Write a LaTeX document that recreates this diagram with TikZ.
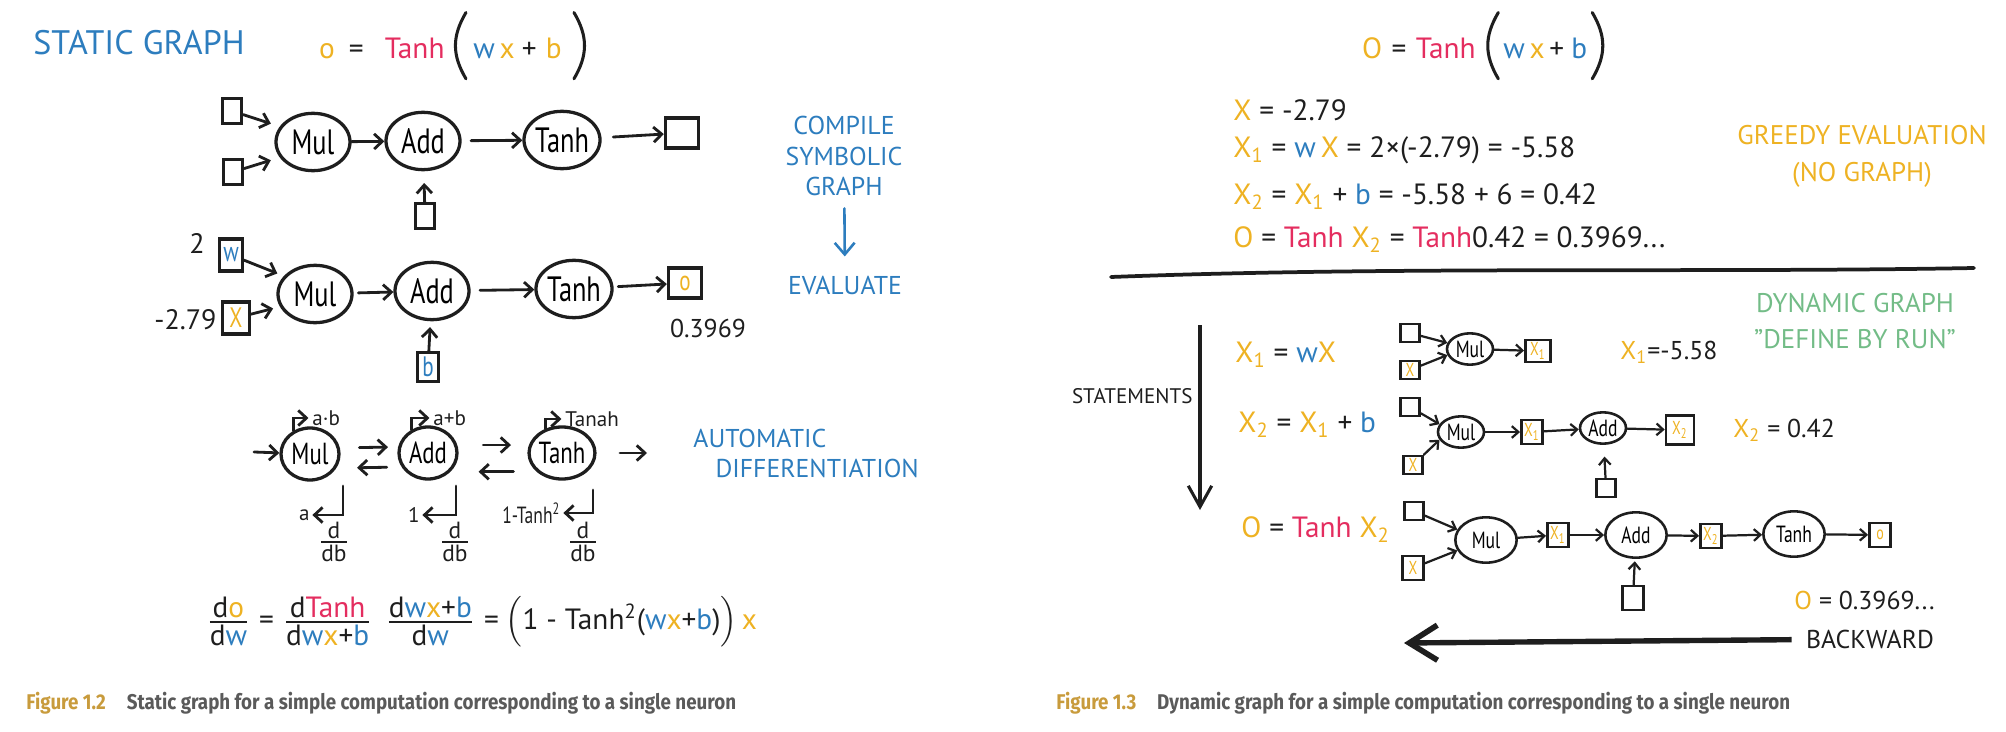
\documentclass[tikz,border=0pt]{standalone}
\usepackage{amsmath}
\usepackage{fontspec}
\setmainfont{PT Sans}
\newfontfamily\narrowhand[FakeStretch=0.75]{PT Sans}
\newfontfamily\capfont[FakeStretch=0.88]{Fira Sans}
\usepackage{xcolor}
\usepackage{tikz}
\usetikzlibrary{arrows.meta,positioning,shapes.geometric}
\definecolor{inkblack}{RGB}{30,30,30}
\definecolor{handblue}{RGB}{45,125,190}
\definecolor{handorange}{RGB}{238,178,35}
\definecolor{handred}{RGB}{228,45,95}
\definecolor{handgreen}{RGB}{115,188,135}
\definecolor{capgold}{RGB}{200,155,60}
\definecolor{capgray}{RGB}{90,90,90}
\newcommand{\fsz}[1]{\fontsize{#1}{#1}\selectfont}
\newcommand{\hor}[1]{\textcolor{handorange}{#1}}
\newcommand{\hbl}[1]{\textcolor{handblue}{#1}}
\newcommand{\hre}[1]{\textcolor{handred}{#1}}
\newcommand{\hfrac}[2]{\ensuremath{\genfrac{}{}{0.8pt}{}{\mbox{#1}}{\mbox{#2}}}}
\tikzset{
    opnode/.style={
        ellipse,
        draw=inkblack,
        line width=1.4pt,
        inner sep=0pt,
        minimum width=1.11cm,
        minimum height=0.86cm,
        font=\narrowhand\fsz{15}
    },
    gradnode/.style={opnode, minimum width=0.87cm, minimum height=0.78cm, font=\narrowhand\fsz{13}},
    dynop/.style={opnode, line width=1.1pt, minimum width=0.69cm, minimum height=0.47cm, font=\narrowhand\fsz{10}},
    dynopc/.style={dynop, minimum width=0.92cm, minimum height=0.68cm},
    valbox/.style={rectangle, draw=inkblack, line width=1.3pt, inner sep=0pt, minimum width=0.29cm, minimum height=0.38cm, font=\narrowhand\fsz{12}},
    outbox/.style={valbox, minimum width=0.5cm, minimum height=0.45cm},
    dynbox/.style={valbox, line width=1.1pt, minimum width=0.32cm, minimum height=0.36cm, font=\narrowhand\fsz{8}},
    emptybox/.style={dynbox, minimum width=0.29cm, minimum height=0.27cm},
    handtext/.style={inner sep=0pt, text=inkblack, font=\fsz{12}},
    smalltext/.style={handtext, font=\fsz{9}},
    eqtext/.style={handtext, anchor=west, font=\fsz{12.5}},
    formula/.style={handtext, font=\fsz{12.5}},
    fracnode/.style={handtext, font=\fsz{10}},
    titletext/.style={inner sep=0pt, text=handblue, font=\fsz{14.5}},
    bluenote/.style={inner sep=0pt, text=handblue, align=center, font=\fontsize{11}{13.2}\selectfont},
    orangenote/.style={bluenote, text=handorange, font=\fontsize{11.5}{15.8}\selectfont},
    greennote/.style={bluenote, text=handgreen, font=\fontsize{11.5}{15.4}\selectfont},
    captag/.style={inner sep=0pt, anchor=west, text=capgold, font=\capfont\bfseries\fsz{9.1}},
    captext/.style={captag, text=capgray},
    flow/.style={-{Straight Barb[length=3.5pt,width=6.5pt]}, line width=1.2pt, draw=inkblack, line cap=round},
    thinflow/.style={-{Straight Barb[length=2.8pt,width=5pt]}, line width=0.95pt, draw=inkblack, line cap=round},
    bluearrow/.style={-{Straight Barb[length=5pt,width=8.5pt]}, line width=1.1pt, draw=handblue, line cap=round},
    stmarrow/.style={-{Straight Barb[length=9pt,width=10pt]}, line width=1.3pt, draw=inkblack},
    backarrow/.style={-{Straight Barb[length=12pt,width=15pt,line width=2.4pt]}, line width=2.3pt, draw=inkblack},
    parenline/.style={line width=1.3pt, draw=inkblack, line cap=round},
    divider/.style={line width=1.6pt, draw=inkblack, line cap=round},
}

\begin{document}
\begin{tikzpicture}[x=0.015cm, y=-0.015cm]
    \useasboundingbox (0,0) rectangle (2006,732);

    % ---- Left: static graph
    \node[titletext] (statictitle) at (139,43) {STATIC GRAPH};
    \node[formula, anchor=east] (staticlhs) at (445,48) {\hor{o}\hspace{6pt}=\hspace{9pt}\hre{Tanh}};
    \node[formula, anchor=west] (staticarg) at (473,48) {\hbl{w}\hspace{2pt}\hor{x}\hspace{3pt}+\hspace{4pt}\hor{b}};
    \draw[parenline] ([shift={(-3pt,10.5pt)}]staticarg.north west) .. controls ([shift={(-9pt,5pt)}]staticarg.west) and ([shift={(-9pt,-3pt)}]staticarg.west) .. ([shift={(-3pt,-8.5pt)}]staticarg.south west);
    \draw[parenline] ([shift={(5pt,10.5pt)}]staticarg.north east) .. controls ([shift={(11pt,5pt)}]staticarg.east) and ([shift={(11pt,-3pt)}]staticarg.east) .. ([shift={(5pt,-8.5pt)}]staticarg.south east);

    % Symbolic graph
    \node[valbox] (in1a) at (232,111) {};
    \node[valbox] (in1b) at (233,172) {};
    \node[opnode] (mul1) at (313,142) {Mul};
    \node[opnode] (add1) at (423,141) {Add};
    \node[opnode] (tanh1) at (562,140) {Tanh};
    \node[outbox] (out1) at (682,133) {};
    \node[valbox] (bias1) at (425,216) {};

    \draw[flow, shorten >=4pt] (in1a) -- (mul1.155);
    \draw[flow, shorten >=4pt] (in1b) -- (mul1.205);
    \draw[flow] (mul1) -- (add1);
    \draw[flow, shorten <=4pt] (add1) -- (tanh1);
    \draw[flow, shorten <=5pt] (tanh1) -- (out1);
    \draw[flow, shorten >=5pt] (bias1) -- (add1);

    % Evaluated graph
    \node[handtext] (wval) at (197,243) {2};
    \node[valbox, minimum width=0.34cm, minimum height=0.48cm] (wbox) at (231,255) {\hbl{w}};
    \node[handtext, anchor=east] (xval) at (217,320) {-2.79};
    \node[valbox, minimum width=0.4cm, minimum height=0.48cm] (xbox) at (236,318) {\hor{X}};
    \node[opnode] (mul2) at (315,294) {Mul};
    \node[opnode] (add2) at (432,291) {Add};
    \node[opnode] (tanh2) at (574,289) {Tanh};
    \node[outbox] (out2) at (685,283) {\hor{o}};
    \node[handtext, font=\fsz{11}] (outval) at (708,328) {0.3969};
    \node[valbox, minimum width=0.31cm, minimum height=0.44cm] (bbox) at (428,367) {\hbl{b}};

    \draw[flow, shorten >=3pt] (wbox) -- (mul2.150);
    \draw[flow, shorten >=3pt] (xbox) -- (mul2.200);
    \draw[flow, shorten <=2pt] (mul2) -- (add2);
    \draw[flow, shorten <=4pt] (add2) -- (tanh2);
    \draw[flow, shorten <=2pt] (tanh2) -- (out2);
    \draw[flow, shorten >=2.5pt] (bbox) -- (add2);

    \node[bluenote] (compilenote) at (844,156) {COMPILE\\SYMBOLIC\\GRAPH};
    \node[bluenote] (evalnote) at (845,285) {EVALUATE};
    \draw[bluearrow, shorten <=5pt, shorten >=8pt] (compilenote) -- (evalnote);

    % Automatic differentiation
    \coordinate (in3) at (254,452);
    \node[gradnode] (mul3) at (310,454) {Mul};
    \node[gradnode] (add3) at (428,453) {Add};
    \node[gradnode] (tanh3) at (562,453) {Tanh};
    \coordinate (out3) at (647,453);

    \draw[flow] (in3) -- (mul3);
    \draw[flow, shorten <=8pt, shorten >=4pt] ([yshift=2.6pt]mul3.east) -- ([yshift=2.6pt]add3.west);
    \draw[flow, shorten <=4.5pt, shorten >=7pt] ([yshift=-6pt]add3.west) -- ([yshift=-6pt]mul3.east);
    \draw[flow, shorten <=10.5pt, shorten >=7pt] ([yshift=3.4pt]add3.east) -- ([yshift=3.4pt]tanh3.west);
    \draw[flow, shorten <=6pt, shorten >=8.5pt] ([yshift=-8pt]tanh3.west) -- ([yshift=-8pt]add3.east);
    \draw[flow, shorten <=10pt] (tanh3) -- (out3);

    % forward values
    \node[smalltext, anchor=west] (mul3fwd) at (312,418) {a·b};
    \node[smalltext, anchor=west] (add3fwd) at (433,418) {a+b};
    \node[smalltext, anchor=west] (tanh3fwd) at (565,419) {Tanah};
    \draw[flow, shorten >=1.5pt] (mul3.125) |- (mul3fwd.west);
    \draw[flow, shorten >=1.5pt] (add3.125) |- (add3fwd.west);
    \draw[flow, shorten >=1.5pt] (tanh3.125) |- (tanh3fwd.west);

    % local gradients
    \coordinate (mul3drop) at (343,486);
    \coordinate (add3drop) at (456,486);
    \coordinate (tanh3drop) at (593,490);
    \node[smalltext, anchor=east] (mul3grad) at (310,515) {a};
    \node[smalltext, anchor=east] (add3grad) at (420,515) {1};
    \node[smalltext, anchor=east, font=\narrowhand\fsz{10}] (tanh3grad) at (561,513) {1-Tanh\textsuperscript{2}};
    \draw[flow, shorten >=1pt] (mul3drop) |- (mul3grad.east);
    \draw[flow, shorten >=1pt] (add3drop) |- (add3grad.east);
    \draw[flow, shorten >=1pt] (tanh3drop) |- (tanh3grad.east);
    \node[fracnode] (mul3db) at (334,542) {\hfrac{d}{db}};
    \node[fracnode] (add3db) at (455,542) {\hfrac{d}{db}};
    \node[fracnode] (tanh3db) at (583,542) {\hfrac{d}{db}};

    \node[bluenote, align=left, anchor=north west, font=\fontsize{11}{12.8}\selectfont] (autonote) at (693,429) {AUTOMATIC\\\hspace*{9.4pt}DIFFERENTIATION};

    % Chain rule
    \node[handtext, font=\fsz{12.5}] (chainrule) at (482,622) {\hfrac{d\hor{o}}{d\hbl{w}}\hspace{4pt}=\hspace{4pt}\hfrac{d\hre{Tanh}}{d\hbl{w}\hor{x}+\hbl{b}}\hspace{6pt}\hfrac{d\hbl{w}\hor{x}+\hbl{b}}{d\hbl{w}}\hspace{4pt}=\hspace{3pt}$\Bigl($1 - Tanh\textsuperscript{2}(\hbl{w}\hor{x}+\hbl{b})$\Bigr)$\hspace{2pt}\hor{x}};

    \node[captag] (figtagL) at (26,703) {Figure 1.2};
    \node[captext, right=8.5pt of figtagL.base east, anchor=base west] (figtextL) {Static graph for a simple computation corresponding to a single neuron};

    % ---- Right: greedy evaluation
    \node[formula, anchor=east] (greedylhs) at (1476,48) {\hor{O}\hspace{4pt}=\hspace{4pt}\hre{Tanh}};
    \node[formula, anchor=west] (greedyarg) at (1503,48) {\hbl{w}\hspace{2pt}\hor{x}\hspace{2pt}+\hspace{3pt}\hbl{b}};
    \draw[parenline] ([shift={(-2pt,10.5pt)}]greedyarg.north west) .. controls ([shift={(-8pt,5pt)}]greedyarg.west) and ([shift={(-8pt,-3pt)}]greedyarg.west) .. ([shift={(-2pt,-8.5pt)}]greedyarg.south west);
    \draw[parenline] ([shift={(2pt,10.5pt)}]greedyarg.north east) .. controls ([shift={(8pt,5pt)}]greedyarg.east) and ([shift={(8pt,-3pt)}]greedyarg.east) .. ([shift={(2pt,-8.5pt)}]greedyarg.south east);

    \node[eqtext] (eqx) at (1233,110) {\hor{X} = -2.79};
    \node[eqtext] (eqx1) at (1233,150) {\hor{X\textsubscript{1}} = \hbl{w}\,\hor{X} = 2×(-2.79) = -5.58};
    \node[eqtext] (eqx2) at (1233,197) {\hor{X\textsubscript{2}} = \hor{X\textsubscript{1}} + \hbl{b} = -5.58 + 6 = 0.42};
    \node[eqtext] (eqo) at (1233,240) {\hor{O} = \hre{Tanh} \hor{X\textsubscript{2}} = \hre{Tanh}0.42 = 0.3969...};
    \node[orangenote] (greedynote) at (1862,156) {GREEDY EVALUATION\\(NO GRAPH)};

    \draw[divider] (1111,277) .. controls (1400,266) and (1700,273) .. (1974,268);

    % Dynamic graph, one statement at a time
    \node[greennote] (dynnote) at (1855,321) {DYNAMIC GRAPH\\"DEFINE BY RUN"};
    \node[smalltext, anchor=east] (stmlabel) at (1193,396) {STATEMENTS};
    \coordinate (stmtop) at (1200,325);
    \coordinate (stmbot) at (1200,510);
    \draw[stmarrow] (stmtop) -- (stmbot);

    \node[eqtext] (stmA) at (1235,355) {\hor{X\textsubscript{1}} = \hbl{w}\hor{X}};
    \node[emptybox] (inA1) at (1410,333) {};
    \node[emptybox] (inA2) at (1410,370) {\hor{X}};
    \node[dynop] (mulA) at (1470,349) {Mul};
    \node[dynbox, minimum width=0.38cm, minimum height=0.33cm] (outA) at (1538,351) {\hor{X\textsubscript{1}}};
    \node[eqtext, font=\fsz{11}] (valA) at (1620,352) {\hor{X\textsubscript{1}}=-5.58};
    \draw[thinflow] (inA1) -- (mulA.165);
    \draw[thinflow] (inA2) -- (mulA.195);
    \draw[thinflow] (mulA) -- (outA);

    \node[eqtext] (stmB) at (1238,425) {\hor{X\textsubscript{2}} = \hor{X\textsubscript{1}} + \hbl{b}};
    \node[emptybox] (inB1) at (1410,407) {};
    \node[emptybox] (inB2) at (1413,465) {\hor{X}};
    \node[dynop] (mulB) at (1461,432) {Mul};
    \node[dynbox] (x1B) at (1532,432) {\hor{X\textsubscript{1}}};
    \node[dynop] (addB) at (1603,428) {Add};
    \node[dynbox, minimum width=0.42cm, minimum height=0.44cm] (x2B) at (1680,430) {\hor{X\textsubscript{2}}};
    \node[emptybox] (biasB) at (1606,488) {};
    \node[eqtext, font=\fsz{11}] (valB) at (1733,430) {\hor{X\textsubscript{2}} = 0.42};
    \draw[thinflow] (inB1) -- (mulB.160);
    \draw[thinflow] (inB2) -- (mulB.200);
    \draw[thinflow] (mulB) -- (x1B);
    \draw[thinflow] (x1B) -- (addB);
    \draw[thinflow] (addB) -- (x2B);
    \draw[thinflow, shorten >=5pt] (biasB) -- (addB);

    \node[eqtext] (stmC) at (1241,530) {\hor{O} = \hre{Tanh} \hor{X\textsubscript{2}}};
    \node[emptybox] (inC1) at (1414,511) {};
    \node[dynbox] (inC2) at (1413,568) {\hor{X}};
    \node[dynopc] (mulC) at (1486,540) {Mul};
    \node[dynbox] (x1C) at (1558,535) {\hor{X\textsubscript{1}}};
    \node[dynopc] (addC) at (1636,535) {Add};
    \node[dynbox] (x2C) at (1711,536) {\hor{X\textsubscript{2}}};
    \node[dynopc] (tanhC) at (1794,534) {Tanh};
    \node[dynbox] (outC) at (1880,535) {\hor{o}};
    \node[dynbox] (biasC) at (1633,598) {};
    \node[eqtext, font=\fsz{11}] (valC) at (1794,600) {\hor{O} = 0.3969...};
    \draw[thinflow] (inC1) -- (mulC.160);
    \draw[thinflow] (inC2) -- (mulC.200);
    \draw[thinflow] (mulC) -- (x1C);
    \draw[thinflow] (x1C) -- (addC);
    \draw[thinflow] (addC) -- (x2C);
    \draw[thinflow] (x2C) -- (tanhC);
    \draw[thinflow] (tanhC) -- (outC);
    \draw[thinflow, shorten >=1pt] (biasC) -- (addC);

    % Backward pass
    \node[handtext, font=\fsz{11}] (backlabel) at (1870,639) {BACKWARD};
    \coordinate (backtip) at (1404,643);
    \draw[backarrow, shorten <=6pt] (backlabel) -- (backtip);

    \node[captag] (figtagR) at (1056,703) {Figure 1.3};
    \node[captext, right=8.5pt of figtagR.base east, anchor=base west] (figtextR) {Dynamic graph for a simple computation corresponding to a single neuron};
\end{tikzpicture}
\end{document}
